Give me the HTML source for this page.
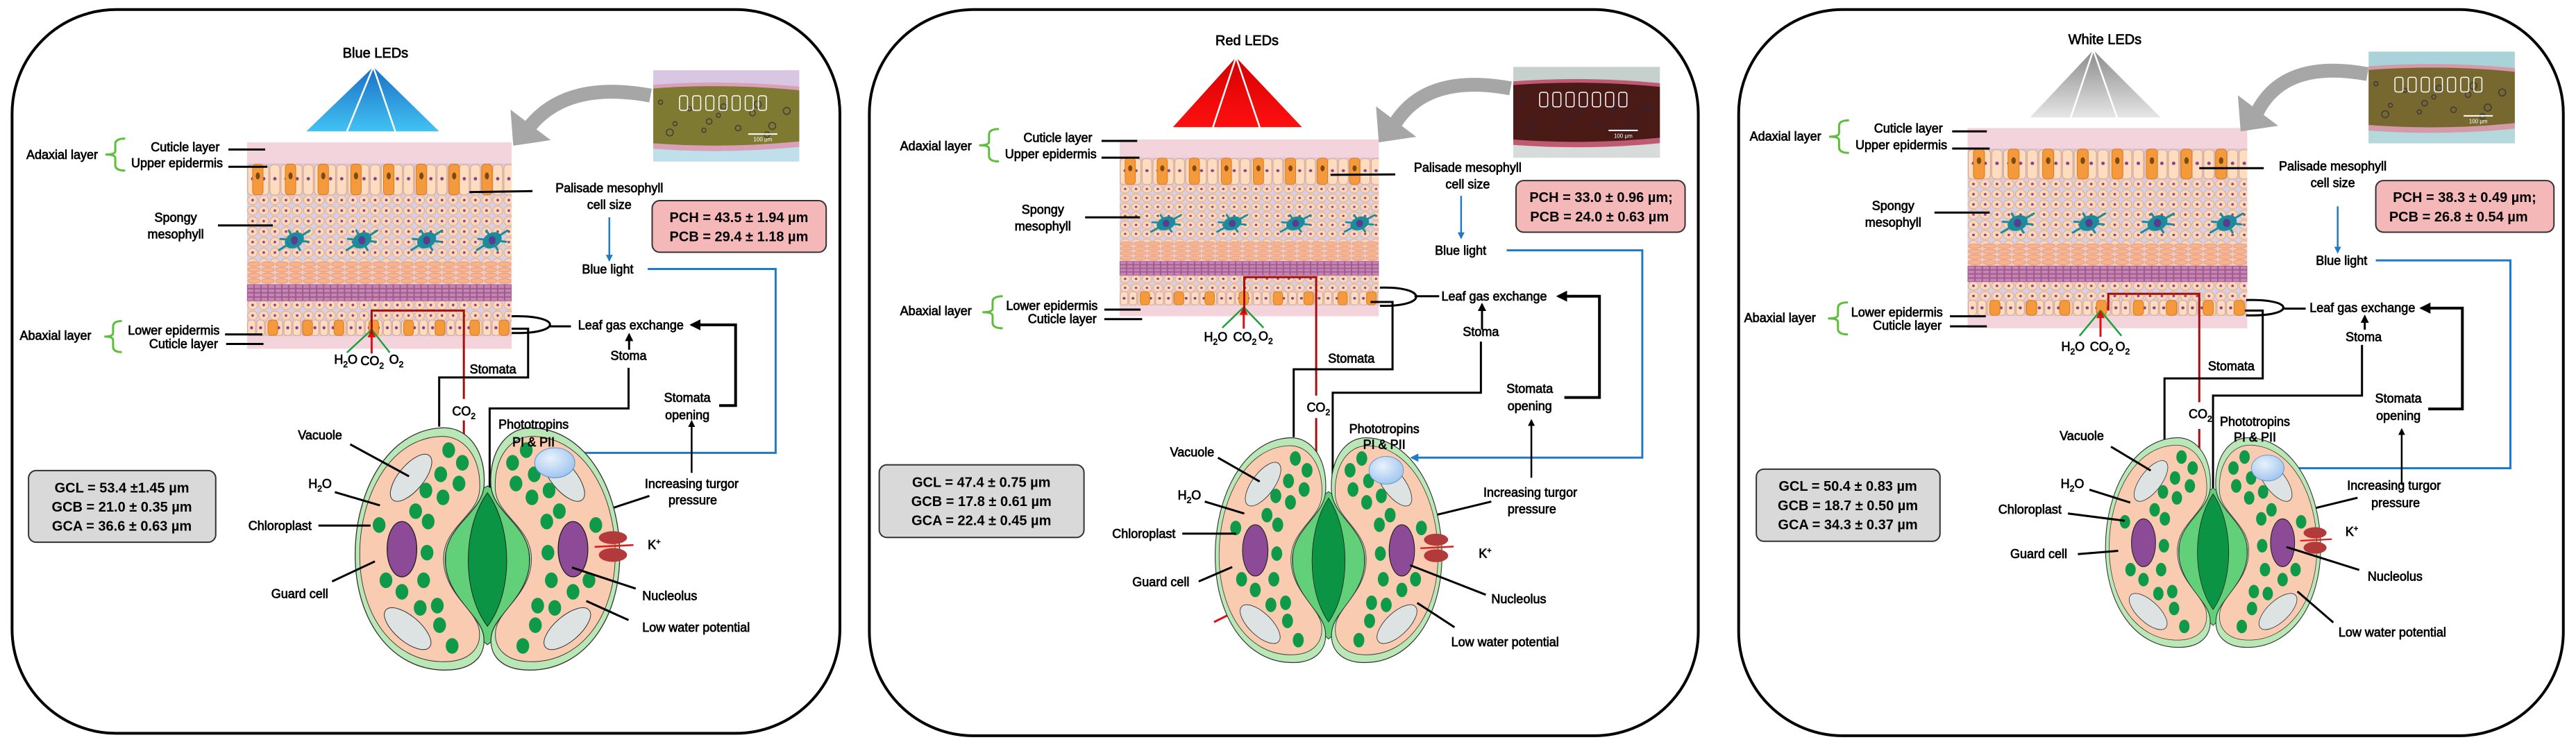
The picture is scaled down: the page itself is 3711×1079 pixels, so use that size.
<!DOCTYPE html>
<html><head><meta charset="utf-8">
<style>
html,body{margin:0;padding:0;background:#fff;}
svg{display:block;}
text{font-family:"Liberation Sans",sans-serif;fill:#000;}
</style></head>
<body>
<svg id="sv" xmlns="http://www.w3.org/2000/svg" width="3711" height="1079" viewBox="0 0 3711 1079">
<defs>
<marker id="mk" viewBox="0 0 10 10" refX="8" refY="5" markerWidth="4" markerHeight="4" orient="auto"><path d="M0,0L10,5L0,10z" fill="#000"/></marker>
<marker id="mb" viewBox="0 0 10 10" refX="8" refY="5" markerWidth="4" markerHeight="4" orient="auto"><path d="M0,0L10,5L0,10z" fill="#1f7ac8"/></marker>
<marker id="mr" viewBox="0 0 10 10" refX="8" refY="5" markerWidth="4" markerHeight="4" orient="auto"><path d="M0,0L10,5L0,10z" fill="#a50f0f"/></marker>
<marker id="mrr" viewBox="0 0 10 10" refX="8" refY="5" markerWidth="4" markerHeight="4" orient="auto"><path d="M0,0L10,5L0,10z" fill="#e01010"/></marker>
<linearGradient id="gBlue" x1="0" y1="0" x2="0" y2="1"><stop offset="0" stop-color="#1a6fc4"/><stop offset="1" stop-color="#42c2f3"/></linearGradient>
<linearGradient id="gRed" x1="0" y1="0" x2="0" y2="1"><stop offset="0" stop-color="#d40000"/><stop offset="1" stop-color="#ff1010"/></linearGradient>
<linearGradient id="gWhite" x1="0" y1="0" x2="0" y2="1"><stop offset="0" stop-color="#8a8a8a"/><stop offset="1" stop-color="#e6e6e6"/></linearGradient>
<radialGradient id="gPh" cx="0.4" cy="0.35" r="0.7"><stop offset="0" stop-color="#e8f2fc"/><stop offset="1" stop-color="#9cc3ee"/></radialGradient>
<pattern id="pp" patternUnits="userSpaceOnUse" x="0" y="30" width="16" height="47"><rect width="16" height="47" fill="#d9c8dc"/><rect x="1" y="2" width="14" height="43" rx="5" fill="#fddcc0" stroke="#d99a70" stroke-width=".8"/><circle cx="8" cy="22" r="2.4" fill="#8a3c8c"/></pattern>
<pattern id="sp" patternUnits="userSpaceOnUse" x="0" y="0" width="16" height="15"><rect width="16" height="15" fill="#d6cfe6"/><ellipse cx="8" cy="7.5" rx="7" ry="6.5" fill="#fcd7b8" stroke="#e0a070" stroke-width=".8"/><circle cx="8" cy="7.5" r="1.8" fill="#8a3c8c"/></pattern>
<pattern id="el" patternUnits="userSpaceOnUse" x="0" y="170" width="20" height="8"><rect width="20" height="8" fill="#edc9bf"/><ellipse cx="10" cy="4" rx="9" ry="3.3" fill="#f8b38f" stroke="#e08860" stroke-width=".6"/></pattern>
<pattern id="pu" patternUnits="userSpaceOnUse" x="0" y="203" width="10" height="6"><rect width="10" height="6" fill="#9e5c8c"/><rect x="1" y="1" width="8" height="4" fill="#c884b4"/></pattern>
<pattern id="le" patternUnits="userSpaceOnUse" x="0" y="253" width="13" height="24"><rect width="13" height="24" fill="#d9c8dc"/><rect x="1" y="1" width="11" height="22" rx="4" fill="#fddcc0" stroke="#d99a70" stroke-width=".8"/><circle cx="6.5" cy="12" r="2.2" fill="#8a3c8c"/></pattern>
<g id="leaf">
<rect x="0" y="0" width="380" height="295" fill="#f3d4dc"/>
<rect x="0" y="30" width="380" height="47" fill="url(#pp)"/>
<rect x="0" y="77" width="380" height="93" fill="url(#sp)"/>
<rect x="0" y="170" width="380" height="33" fill="url(#el)"/>
<rect x="0" y="203" width="380" height="24" fill="url(#pu)"/>
<rect x="0" y="227" width="380" height="26" fill="url(#sp)"/>
<rect x="0" y="253" width="380" height="24" fill="url(#le)"/>
<g fill="#f59a3c" stroke="#d97a20" stroke-width="1">
<rect x="8" y="31" width="15" height="44" rx="5"/><rect x="55" y="31" width="15" height="44" rx="5"/><rect x="102" y="31" width="15" height="44" rx="5"/><rect x="149" y="31" width="15" height="44" rx="5"/><rect x="196" y="31" width="15" height="44" rx="5"/><rect x="243" y="31" width="15" height="44" rx="5"/><rect x="290" y="31" width="15" height="44" rx="5"/><rect x="337" y="31" width="15" height="44" rx="5"/>
<rect x="30" y="254" width="14" height="22" rx="5"/><rect x="80" y="254" width="14" height="22" rx="5"/><rect x="125" y="254" width="14" height="22" rx="5"/><rect x="175" y="254" width="14" height="22" rx="5"/><rect x="225" y="254" width="14" height="22" rx="5"/><rect x="270" y="254" width="14" height="22" rx="5"/><rect x="320" y="254" width="14" height="22" rx="5"/><rect x="362" y="254" width="14" height="22" rx="5"/>
</g>
<g fill="#7a4a10"><ellipse cx="15.5" cy="48" rx="3" ry="5"/><ellipse cx="62.5" cy="48" rx="3" ry="5"/><ellipse cx="109.5" cy="48" rx="3" ry="5"/><ellipse cx="156.5" cy="48" rx="3" ry="5"/><ellipse cx="203.5" cy="48" rx="3" ry="5"/><ellipse cx="250.5" cy="48" rx="3" ry="5"/><ellipse cx="297.5" cy="48" rx="3" ry="5"/><ellipse cx="344.5" cy="48" rx="3" ry="5"/></g>
<g stroke="#1b8c9c" stroke-width="3" stroke-linecap="round" fill="#1b8c9c">
<g transform="translate(68,140)"><path d="M-22,14L22,-14M-8,-14L8,14M-20,-2L20,2" /><ellipse rx="13" ry="9" transform="rotate(-30)"/><ellipse rx="5" ry="6" fill="#5a3d8e" stroke="none"/></g>
<g transform="translate(165,140)"><path d="M-22,14L22,-14M-8,-14L8,14M-20,-2L20,2" /><ellipse rx="13" ry="9" transform="rotate(-30)"/><ellipse rx="5" ry="6" fill="#5a3d8e" stroke="none"/></g>
<g transform="translate(258,140)"><path d="M-22,14L22,-14M-8,-14L8,14M-20,-2L20,2" /><ellipse rx="13" ry="9" transform="rotate(-30)"/><ellipse rx="5" ry="6" fill="#5a3d8e" stroke="none"/></g>
<g transform="translate(352,140)"><path d="M-22,14L22,-14M-8,-14L8,14M-20,-2L20,2" /><ellipse rx="13" ry="9" transform="rotate(-30)"/><ellipse rx="5" ry="6" fill="#5a3d8e" stroke="none"/></g>
</g>
</g>
<g id="halfcell">
<path d="M600,300 C610,150 530,45 420,48 C180,55 35,320 35,600 C35,880 190,1100 430,1100 C560,1100 610,1030 598,950 C585,860 430,780 430,620 C430,470 590,420 600,300 Z" fill="#b9e7b6" stroke="#333" stroke-width="4"/>
<path transform="translate(320,580) scale(0.93) translate(-320,-580)" d="M600,300 C610,150 530,45 420,48 C180,55 35,320 35,600 C35,880 190,1100 430,1100 C560,1100 610,1030 598,950 C585,860 430,780 430,620 C430,470 590,420 600,300 Z" fill="#f9cbb0" stroke="#333" stroke-width="3"/>
<ellipse cx="280" cy="265" rx="55" ry="125" transform="rotate(40 280 265)" fill="#dde2e2" stroke="#333" stroke-width="3"/>
<ellipse cx="265" cy="920" rx="55" ry="125" transform="rotate(-50 265 920)" fill="#dde2e2" stroke="#333" stroke-width="3"/>
<ellipse cx="240" cy="575" rx="65" ry="120" fill="#8d4a96" stroke="#222" stroke-width="4"/>
<g fill="#0e9a48">
<ellipse cx="445" cy="145" rx="28" ry="34"/><ellipse cx="505" cy="200" rx="28" ry="34"/><ellipse cx="410" cy="250" rx="28" ry="34"/><ellipse cx="490" cy="290" rx="28" ry="34"/><ellipse cx="345" cy="320" rx="28" ry="34"/><ellipse cx="420" cy="350" rx="28" ry="34"/><ellipse cx="300" cy="410" rx="28" ry="34"/><ellipse cx="355" cy="455" rx="28" ry="34"/><ellipse cx="140" cy="470" rx="28" ry="34"/><ellipse cx="350" cy="590" rx="28" ry="34"/><ellipse cx="170" cy="710" rx="28" ry="34"/><ellipse cx="240" cy="760" rx="28" ry="34"/><ellipse cx="335" cy="710" rx="28" ry="34"/><ellipse cx="320" cy="830" rx="28" ry="34"/><ellipse cx="395" cy="820" rx="28" ry="34"/><ellipse cx="405" cy="905" rx="28" ry="34"/><ellipse cx="460" cy="995" rx="28" ry="34"/>
</g>
</g>
<g id="stoma">
<path d="M615,300 C370,440 370,800 615,990 C860,800 860,440 615,300 Z" fill="#62d078" stroke="#222" stroke-width="3"/>
<use href="#halfcell"/>
<use href="#halfcell" transform="translate(1230,0) scale(-1,1)"/>
<path d="M615,330 C505,480 500,760 615,910 C730,760 725,480 615,330 Z" fill="#0a9444" stroke="#222" stroke-width="3"/>
<ellipse cx="910" cy="200" rx="88" ry="65" fill="url(#gPh)" stroke="#5a8fd0" stroke-width="3"/>
<ellipse cx="1165" cy="525" rx="62" ry="28" fill="#b23a3a"/>
<ellipse cx="1165" cy="600" rx="62" ry="30" fill="#b23a3a"/>
<line x1="1085" y1="565" x2="1255" y2="557" stroke="#e21c1c" stroke-width="8"/>
</g>
</defs>
<g id="root"></g>
</svg>
<script>
const SY=1.453;
const FS=18;
const panels=[
{off:0,sx:1.2645,grad:'gBlue',micro:'blue',cmds:[
['B',22,20,1530,1535],
['T',684,110,'Blue LEDs','middle',20],
['TRI',680,140,558,800,275,632,720],
['LEAF',450,298,932,730],
['MI',1190,147,1456,338],
['GA',1185,200,935,305],
['T',48,323,'Adaxial layer','start',FS],['BR',192,228,290,357],
['T',400,307,'Cuticle layer','end',FS],['T',406,341,'Upper epidermis','end',FS],
['L','k',3,0,[416,313,483,313]],['L','k',3,0,[416,349,487,349]],
['T',320,455,'Spongy','middle',FS],['T',320,490,'mesophyll','middle',FS],['L','k',3,0,[397,472,497,472]],
['T',1110,393,'Palisade mesophyll','middle',FS],['T',1110,428,'cell size','middle',FS],['L','k',3,0,[855,402,970,400]],
['BOX',1188,420,1505,528,'#f4b8b8'],['TB',1346,455,'PCH = 43.5 ± 1.94 µm'],['TB',1346,495,'PCB = 29.4 ± 1.18 µm'],
['L','b',2.5,1,[1110,455,1110,545]],['T',1107,563,'Blue light','middle',FS],
['L','b',3,1,[1180,563,1413,563,1413,948,1045,948]],
['T',36,702,'Abaxial layer','start',FS],['BR',190,222,672,737],
['T',400,691,'Lower epidermis','end',FS],['T',397,719,'Cuticle layer','end',FS],
['L','k',3,0,[410,700,478,700]],['L','k',3,0,[412,720,480,720]],
['T',630,752,'H<tspan dy="5" font-size="12">2</tspan><tspan dy="-5">O</tspan>','middle',FS],
['T',678,755,'CO<tspan dy="5" font-size="12">2</tspan>','middle',FS],
['T',722,752,'O<tspan dy="5" font-size="12">2</tspan>','middle',FS],
['L','g',2.5,0,[677,690,632,738]],['L','g',2.5,0,[677,690,710,738]],['L','rr',3,1,[677,740,677,692]],
['L','r',3,0,[677,700,677,650,845,650,845,835]],['T',845,860,'CO<tspan dy="5" font-size="12">2</tspan>','middle',FS],['L','r',3,1,[845,880,845,1115]],
['LOOP',932,662,1010,697],['L','k',3,0,[1000,683,1040,683]],
['T',1053,680,'Leaf gas exchange','start',FS],
['L','k',3,1,[1146,732,1146,700]],['T',1145,744,'Stoma','middle',FS],
['L','k',3,0,[1145,770,1145,855,892,855,892,1070]],
['T',898,772,'Stomata','middle',FS],['L','k',3,0,[932,688,962,688,962,790,800,790,800,893]],
['T',1252,832,'Stomata','middle',FS],['T',1252,868,'opening','middle',FS],
['L','k',4,1,[1310,849,1340,849,1340,680,1260,680]],
['T',1260,1012,'Increasing turgor','middle',FS],['T',1262,1046,'pressure','middle',FS],
['L','k',2.5,1,[1260,990,1260,882]],['L','k',3,0,[1183,1038,1072,1080]],
['BOX',52,985,393,1135,'#d9d9d9'],['TB',222,1021,'GCL = 53.4 ±1.45 µm'],['TB',222,1061,'GCB = 21.0 ± 0.35 µm'],['TB',222,1101,'GCA = 36.6 ± 0.63 µm'],
['ST',647,894,1129,1406],
['T',583,910,'Vacuole','middle',FS],['L','k',3,0,[638,930,745,997]],
['T',583,1012,'H<tspan dy="5" font-size="12">2</tspan><tspan dy="-5">O</tspan>','middle',FS],['L','k',3,0,[610,1030,692,1058]],
['T',510,1100,'Chloroplast','middle',FS],['L','k',3,0,[580,1100,675,1100]],
['T',546,1242,'Guard cell','middle',FS],['L','k',3,0,[605,1217,683,1175]],
['T',1180,1140,'K<tspan dy="-7" font-size="11">+</tspan>','start',FS],
['T',1220,1247,'Nucleolus','middle',FS],['L','k',3,0,[1158,1232,1042,1188]],
['T',1268,1313,'Low water potential','middle',FS],['L','k',3,0,[1145,1298,1068,1258]],
['T',972,888,'Phototropins','middle',FS],['T',972,925,'PI &amp; PII','middle',FS],
]},
{off:1235,sx:1.2645,grad:'gRed',micro:'red',cmds:[
['B',22,20,1532,1540],
['T',710,84,'Red LEDs','middle',20],
['TRI',690,120,575,810,266,648,733],
['LEAF',478,292,950,662],
['MI',1195,140,1462,330],
['GA',1190,185,950,298],
['T',78,305,'Adaxial layer','start',FS],['BR',222,258,270,338],
['T',428,288,'Cuticle layer','end',FS],['T',436,322,'Upper epidermis','end',FS],
['L','k',3,0,[445,295,510,295]],['L','k',3,0,[445,330,514,330]],
['T',338,438,'Spongy','middle',FS],['T',338,473,'mesophyll','middle',FS],['L','k',3,0,[415,455,515,455]],
['T',1112,350,'Palisade mesophyll','middle',FS],['T',1112,385,'cell size','middle',FS],['L','k',3,0,[862,366,980,365]],
['BOX',1200,378,1508,486,'#f4b8b8'],['TB',1355,413,'PCH = 33.0 ± 0.96 µm;'],['TB',1352,453,'PCB = 24.0  ± 0.63  µm'],
['L','b',2.5,1,[1100,410,1100,498]],['T',1099,524,'Blue light','middle',FS],
['L','b',3,1,[1183,524,1430,524,1430,958,1010,958]],
['T',78,650,'Abaxial layer','start',FS],['BR',228,265,620,687],
['T',438,639,'Lower epidermis','end',FS],['T',436,667,'Cuticle layer','end',FS],
['L','k',3,0,[450,648,516,648]],['L','k',3,0,[450,668,519,668]],
['T',653,705,'H<tspan dy="5" font-size="12">2</tspan><tspan dy="-5">O</tspan>','middle',FS],
['T',706,705,'CO<tspan dy="5" font-size="12">2</tspan>','middle',FS],
['T',744,703,'O<tspan dy="5" font-size="12">2</tspan>','middle',FS],
['L','g',2.5,0,[704,643,665,686]],['L','g',2.5,0,[704,643,740,686]],['L','rr',3,1,[704,688,704,645]],
['L','r',3,0,[705,655,705,580,836,580,836,828]],['T',840,852,'CO<tspan dy="5" font-size="12">2</tspan>','middle',FS],['L','r',3,1,[836,875,836,1140]],
['L','rr',3,1,[650,1302,820,1205]],
['LOOP',952,602,1025,640],['L','k',3,0,[1015,620,1060,620]],
['T',1064,620,'Leaf gas exchange','start',FS],
['L','k',3,1,[1138,690,1138,637]],['T',1136,694,'Stoma','middle',FS],
['L','k',3,0,[1136,715,1136,822,866,822,866,1100]],
['T',900,750,'Stomata','middle',FS],['L','k',3,0,[935,632,975,632,975,773,795,773,795,915]],
['T',1225,813,'Stomata','middle',FS],['T',1225,849,'opening','middle',FS],
['L','k',4,1,[1288,832,1352,832,1352,620,1277,620]],
['T',1226,1030,'Increasing turgor','middle',FS],['T',1229,1065,'pressure','middle',FS],
['L','k',2.5,1,[1228,1000,1228,880]],['L','k',3,0,[1155,1050,1022,1087]],
['BOX',40,973,413,1125,'#d9d9d9'],['TB',226,1009,'GCL = 47.4 ± 0.75 µm'],['TB',226,1049,'GCB = 17.8 ± 0.61 µm'],['TB',226,1089,'GCA = 22.4 ± 0.45 µm'],
['ST',652,915,1065,1390],
['T',610,946,'Vacuole','middle',FS],['L','k',3,0,[657,958,733,1008]],
['T',605,1036,'H<tspan dy="5" font-size="12">2</tspan><tspan dy="-5">O</tspan>','middle',FS],['L','k',3,0,[633,1050,705,1075]],
['T',522,1117,'Chloroplast','middle',FS],['L','k',3,0,[592,1117,690,1117]],
['T',553,1218,'Guard cell','middle',FS],['L','k',3,0,[622,1217,683,1187]],
['T',1132,1158,'K<tspan dy="-7" font-size="11">+</tspan>','start',FS],
['T',1205,1253,'Nucleolus','middle',FS],['L','k',3,0,[1145,1245,1007,1183]],
['T',1180,1343,'Low water potential','middle',FS],['L','k',3,0,[1088,1313,1020,1262]],
['T',960,897,'Phototropins','middle',FS],['T',960,930,'PI &amp; PII','middle',FS],
]},
{off:2465,sx:1.2584,grad:'gWhite',micro:'white',cmds:[
['B',50,20,1545,1540],
['T',714,82,'White LEDs','middle',20],
['TRI',693,105,578,815,246,652,736],
['LEAF',465,268,972,687],
['MI',1192,108,1457,300],
['GA',1190,155,960,275],
['T',70,285,'Adaxial layer','start',FS],['BR',214,250,252,320],
['T',420,268,'Cuticle layer','end',FS],['T',428,303,'Upper epidermis','end',FS],
['L','k',3,0,[437,275,500,275]],['L','k',3,0,[437,311,505,311]],
['T',330,430,'Spongy','middle',FS],['T',330,465,'mesophyll','middle',FS],['L','k',3,0,[405,445,505,445]],
['T',1127,347,'Palisade mesophyll','middle',FS],['T',1127,382,'cell size','middle',FS],['L','k',3,0,[885,352,1002,352]],
['BOX',1205,378,1528,486,'#f4b8b8'],['TB',1366,413,'PCH  =  38.3  ± 0.49  µm;'],['TB',1355,453,'PCB =  26.8  ± 0.54 µm'],
['L','b',2.5,1,[1136,432,1136,528]],['T',1143,545,'Blue light','middle',FS],
['L','b',3,1,[1205,545,1449,545,1449,980,1030,980]],
['T',60,665,'Abaxial layer','start',FS],['BR',212,248,633,700],
['T',420,653,'Lower epidermis','end',FS],['T',418,681,'Cuticle layer','end',FS],
['L','k',3,0,[433,662,498,662]],['L','k',3,0,[433,683,500,683]],
['T',656,725,'H<tspan dy="5" font-size="12">2</tspan><tspan dy="-5">O</tspan>','middle',FS],
['T',708,725,'CO<tspan dy="5" font-size="12">2</tspan>','middle',FS],
['T',746,725,'O<tspan dy="5" font-size="12">2</tspan>','middle',FS],
['L','g',2.5,0,[706,650,668,703]],['L','g',2.5,0,[706,650,744,703]],['L','rr',3,1,[706,705,706,652]],
['L','r',3,0,[720,650,720,615,885,615,885,842]],['T',887,866,'CO<tspan dy="5" font-size="12">2</tspan>','middle',FS],['L','r',3,1,[885,898,885,1158]],
['LOOP',970,628,1045,660],['L','k',3,0,[1035,646,1078,646]],
['T',1085,644,'Leaf gas exchange','start',FS],
['L','k',3,1,[1185,690,1185,662]],['T',1183,705,'Stoma','middle',FS],
['L','k',3,0,[1180,722,1180,828,910,828,910,1108]],
['T',943,766,'Stomata','middle',FS],['L','k',3,0,[968,650,1000,650,1000,792,822,792,822,932]],
['T',1246,833,'Stomata','middle',FS],['T',1246,870,'opening','middle',FS],
['L','k',4,1,[1300,856,1362,856,1362,645,1288,645]],
['T',1238,1016,'Increasing turgor','middle',FS],['T',1241,1052,'pressure','middle',FS],
['L','k',2.5,1,[1252,1015,1252,899]],['L','k',3,0,[1172,1042,1065,1072]],
['BOX',82,982,415,1133,'#d9d9d9'],['TB',248,1017,'GCL = 50.4 ± 0.83 µm'],['TB',248,1058,'GCB = 18.7 ± 0.50 µm'],['TB',248,1098,'GCA = 34.3 ± 0.37 µm'],
['ST',715,915,1105,1358],
['T',672,912,'Vacuole','middle',FS],['L','k',3,0,[725,935,797,985]],
['T',655,1012,'H<tspan dy="5" font-size="12">2</tspan><tspan dy="-5">O</tspan>','middle',FS],['L','k',3,0,[686,1025,760,1052]],
['T',578,1066,'Chloroplast','middle',FS],['L','k',3,0,[647,1075,750,1090]],
['T',594,1159,'Guard cell','middle',FS],['L','k',3,0,[665,1160,738,1153]],
['T',1150,1112,'K<tspan dy="-7" font-size="11">+</tspan>','start',FS],
['T',1240,1206,'Nucleolus','middle',FS],['L','k',3,0,[1175,1193,1043,1145]],
['T',1235,1323,'Low water potential','middle',FS],['L','k',3,0,[1128,1303,1063,1238]],
['T',986,882,'Phototropins','middle',FS],['T',986,915,'PI &amp; PII','middle',FS],
]}
];
const COL={k:'#000',b:'#1f7ac8',r:'#a50f0f',rr:'#e01010',g:'#1aa33a'};
const MK={k:'mk',b:'mb',r:'mr',rr:'mrr',g:'mk'};
const MICRO={
blue:{bg:'#d8c6e2',tis:'#7f7a32',edge:'#d9a0b8',bot:'#bfe0ea'},
red:{bg:'#c6d0cc',tis:'#4a1a16',edge:'#c05a70',bot:'#d7dcda'},
white:{bg:'#a9d3d8',tis:'#76682e',edge:'#d59aaa',bot:'#b4d8dc'}};
let s='';
for(const p of panels){
 const X=z=>(p.off+z/p.sx), Y=z=>z/SY;
 for(const c of p.cmds){
  const t=c[0];
  if(t==='B'){const x0=X(c[1]),y0=Y(c[2]),x1=X(c[3]),y1=Y(c[4]);
   s+=`<rect x="${x0}" y="${y0}" width="${x1-x0}" height="${y1-y0}" rx="150" ry="150" fill="none" stroke="#000" stroke-width="4"/>`;}
  else if(t==='T'){const fs=c[5];
   s+=`<text x="${X(c[1])}" y="${Y(c[2])+fs*0.36}" text-anchor="${c[4]}" font-size="${fs}" stroke="#000" stroke-width="0.7">${c[3]}</text>`;}
  else if(t==='TB'){s+=`<text x="${X(c[1])}" y="${Y(c[2])+7}" text-anchor="middle" font-size="20" font-weight="bold">${c[3]}</text>`;}
  else if(t==='L'){const pts=[];for(let i=0;i<c[4].length;i+=2)pts.push(X(c[4][i]).toFixed(1)+','+Y(c[4][i+1]).toFixed(1));
   s+=`<polyline points="${pts.join(' ')}" fill="none" stroke="${COL[c[1]]}" stroke-width="${c[2]}" ${c[3]?`marker-end="url(#${MK[c[1]]})"`:''}/>`;}
  else if(t==='BR'){const xl=X(c[1]),xr=X(c[2]),y0=Y(c[3]),y1=Y(c[4]),ym=(y0+y1)/2,xm=(xl+xr)/2;
   s+=`<path d="M${xr},${y0} Q${xm},${y0} ${xm},${y0+8} L${xm},${ym-5} Q${xm},${ym} ${xl},${ym} Q${xm},${ym} ${xm},${ym+5} L${xm},${y1-8} Q${xm},${y1} ${xr},${y1}" fill="none" stroke="#5bbf3a" stroke-width="3"/>`;}
  else if(t==='BOX'){const x0=X(c[1]),y0=Y(c[2]),x1=X(c[3]),y1=Y(c[4]);
   s+=`<rect x="${x0}" y="${y0}" width="${x1-x0}" height="${y1-y0}" rx="11" fill="${c[5]}" stroke="#333" stroke-width="2"/>`;}
  else if(t==='TRI'){const ax=X(c[1]),ay=Y(c[2]),b0=X(c[3]),b1=X(c[4]),by=Y(c[5]),l1=X(c[6]),l2=X(c[7]);
   s+=`<polygon points="${ax},${ay} ${b0},${by} ${b1},${by}" fill="url(#${p.grad})"/><path d="M${ax},${ay}L${l1},${by}M${ax},${ay}L${l2},${by}" stroke="#fff" stroke-width="2.5"/>`;}
  else if(t==='LEAF'){const x0=X(c[1]),y0=Y(c[2]),w=X(c[3])-x0,h=Y(c[4])-y0;
   s+=`<use href="#leaf" transform="translate(${x0},${y0}) scale(${w/380},${h/295})"/>`;}
  else if(t==='ST'){const x0=X(c[1]),y0=Y(c[2]),w=X(c[3])-x0,h=Y(c[4])-y0;
   s+=`<use href="#stoma" transform="translate(${x0},${y0}) scale(${w/1160},${h/1062}) translate(-35,-45)"/>`;}
  else if(t==='MI'){const m=MICRO[p.micro];const x0=X(c[1]),y0=Y(c[2]),w=X(c[3])-x0,h=Y(c[4])-y0;
   s+=`<rect x="${x0}" y="${y0}" width="${w}" height="${h}" fill="${m.bg}"/>`;
   s+=`<rect x="${x0}" y="${y0+h*0.82}" width="${w}" height="${h*0.18}" fill="${m.bot}"/>`;
   s+=`<path d="M${x0},${y0+h*0.16} Q${x0+w*0.5},${y0+h*0.10} ${x0+w},${y0+h*0.18} L${x0+w},${y0+h*0.84} Q${x0+w*0.5},${y0+h*0.92} ${x0},${y0+h*0.86}Z" fill="${m.edge}"/>`;
   s+=`<path d="M${x0},${y0+h*0.2} Q${x0+w*0.5},${y0+h*0.14} ${x0+w},${y0+h*0.22} L${x0+w},${y0+h*0.78} Q${x0+w*0.5},${y0+h*0.86} ${x0},${y0+h*0.8}Z" fill="${m.tis}"/>`;
   for(let i=0;i<14;i++){const cx=x0+w*(0.05+0.9*((i*37)%100)/100),cy=y0+h*(0.35+0.4*((i*53)%100)/100);
    s+=`<circle cx="${cx}" cy="${cy}" r="${3+(i%3)}" fill="none" stroke="#2a2440" stroke-width="1.5" opacity="0.7"/>`;}
   for(let i=0;i<7;i++){s+=`<rect x="${x0+w*(0.18+i*0.09)}" y="${y0+h*0.28}" width="${w*0.055}" height="${h*0.16}" rx="3" fill="none" stroke="#fff" stroke-width="1.5"/>`;}
   s+=`<line x1="${x0+w*0.65}" y1="${y0+h*0.7}" x2="${x0+w*0.85}" y2="${y0+h*0.7}" stroke="#fff" stroke-width="2"/><text x="${x0+w*0.75}" y="${y0+h*0.78}" text-anchor="middle" font-size="8" style="fill:#fff">100 µm</text>`;}
  else if(t==='GA'){const sx=X(c[1]),sy=Y(c[2]),tx=X(c[3]),ty=Y(c[4]);
   const jx=tx+24,jy=ty-28;
   s+=`<path d="M${sx},${sy} Q${sx-120},${sy-22} ${jx},${jy}" fill="none" stroke="#a6a6a6" stroke-width="20"/>`;
   s+=`<polygon points="${tx},${ty} ${tx-4},${ty-52} ${tx+54},${ty-8}" fill="#a6a6a6"/>`;}
  else if(t==='LOOP'){const x0=X(c[1]),yt=Y(c[2]),xr=X(c[3]),yb=Y(c[4]);
   s+=`<path d="M${x0},${yt} C${xr+12},${yt-2} ${xr+12},${yb+2} ${x0},${yb}" fill="none" stroke="#000" stroke-width="3"/>`;}
 }
}
document.getElementById('root').innerHTML=s;
</script>
</body></html>
